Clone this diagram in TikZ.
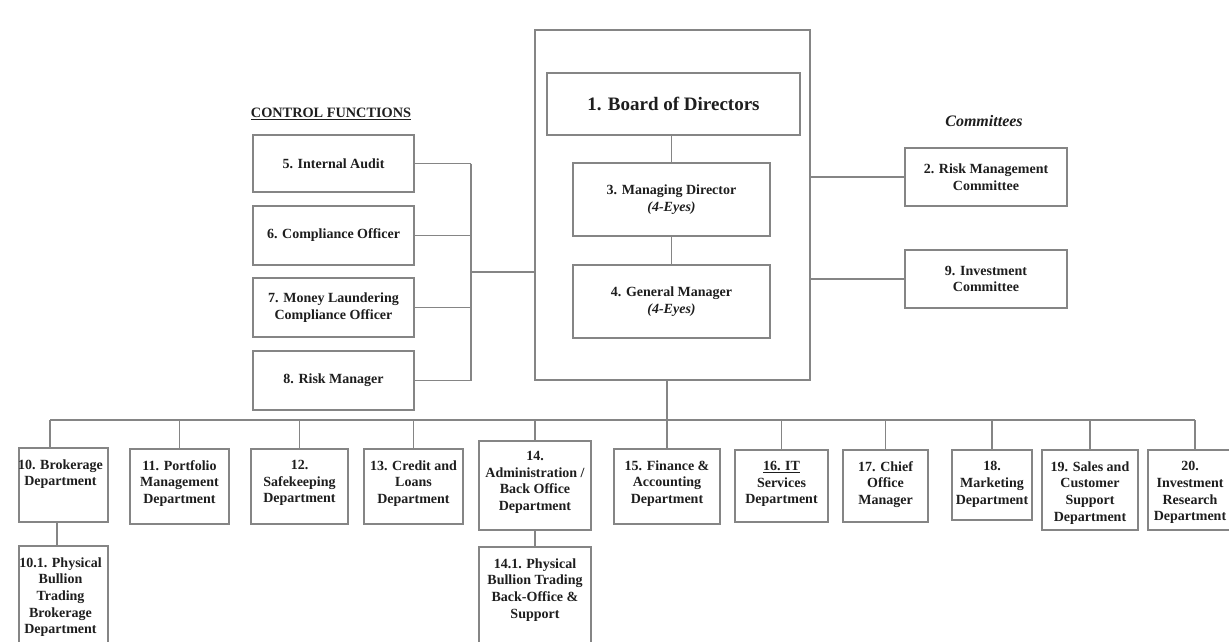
\documentclass[tikz,border=0pt]{standalone}
\usepackage{fontspec}
\setmainfont{Liberation Serif}
\usetikzlibrary{calc}
\definecolor{linec}{HTML}{858585}
\definecolor{textc}{HTML}{1E1E1E}
\tikzset{
  box/.style={draw=linec, line width=1.8pt, inner sep=0pt},
  btxt/.style={font=\bfseries\fontsize{14}{16.7}\selectfont, text=textc, align=center, inner sep=0pt},
  ln/.style={draw=linec, line width=1.8pt},
  toptxt/.style={btxt, anchor=north}
}
\begin{document}
\begin{tikzpicture}[x=1pt,y=-1pt]
\fill[white] (0,0) rectangle (1229,641);
\useasboundingbox (0,0) rectangle (1229,641);

% central block
\node[box, minimum width=275pt, minimum height=350pt] (outer) at (672.5,205) {};
\node[box, font=\bfseries\fontsize{19}{22}\selectfont, text=textc, minimum width=253pt, minimum height=62pt] (board) at (673.5,104) {1. Board of Directors};
\node[box, btxt, minimum width=197pt, minimum height=73pt] (md) at (671.5,199.5) {3. Managing Director\\\textit{(4-Eyes)}};
\node[box, btxt, minimum width=197pt, minimum height=73pt] (gm) at (671.5,301.5) {4. General Manager\\\textit{(4-Eyes)}};
\draw[ln] (md.north |- board.south) -- (md.north);
\draw[ln] (md.south) -- (gm.north);

% control functions
\node[font=\bfseries\fontsize{14.3}{16}\selectfont, text=textc, inner sep=0pt] (ctl) at (331,114) {\underline{CONTROL FUNCTIONS}};
\node[box, btxt, minimum width=161pt, minimum height=57pt] (b5) at (333.5,163.5) {5. Internal Audit};
\node[box, btxt, minimum width=161pt, minimum height=59pt] (b6) at (333.5,235.5) {6. Compliance Officer};
\node[box, btxt, minimum width=161pt, minimum height=59pt] (b7) at (333.5,307.5) {7. Money Laundering\\Compliance Officer};
\node[box, btxt, minimum width=161pt, minimum height=59pt] (b8) at (333.5,380.5) {8. Risk Manager};
\coordinate (jL) at (471,272);
\foreach \b in {b5,b6,b7,b8} \draw[ln] (\b.east) -- (\b.east -| jL);
\draw[ln] (b5.east -| jL) -- (b8.east -| jL);
\draw[ln] (jL) -- (jL -| outer.west);

% committees
\node[font=\bfseries\itshape\fontsize{16}{18}\selectfont, text=textc, inner sep=0pt] (com) at (984,121) {Committees};
\node[box, btxt, minimum width=162pt, minimum height=58pt] (rm) at (986,177) {2. Risk Management\\Committee};
\node[box, btxt, minimum width=162pt, minimum height=58pt] (inv) at (986,279) {9. Investment\\Committee};
\draw[ln] (rm.west -| outer.east) -- (rm.west);
\draw[ln] (inv.west -| outer.east) -- (inv.west);

% departments
\node[box, minimum width=89pt, minimum height=74pt] (b10) at (63.5,485) {};
\node[box, minimum width=99pt, minimum height=75pt] (b11) at (179.5,486.5) {};
\node[box, minimum width=97pt, minimum height=75pt] (b12) at (299.5,486.5) {};
\node[box, minimum width=99pt, minimum height=75pt] (b13) at (413.5,486.5) {};
\node[box, minimum width=112pt, minimum height=89pt] (b14) at (535,485.5) {};
\node[box, minimum width=106pt, minimum height=75pt] (b15) at (667,486.5) {};
\node[box, minimum width=93pt, minimum height=72pt] (b16) at (781.5,486) {};
\node[box, minimum width=85pt, minimum height=72pt] (b17) at (885.5,486) {};
\node[box, minimum width=80pt, minimum height=70pt] (b18) at (992,485) {};
\node[box, minimum width=96pt, minimum height=80pt] (b19) at (1090,490) {};
\node[box, minimum width=84pt, minimum height=80pt] (b20) at (1190,490) {};
\node[box, minimum width=89pt, minimum height=114pt] (b101) at (63.5,603) {};
\node[box, minimum width=112pt, minimum height=113pt] (b141) at (535,603.5) {};

\node[toptxt] (t10) at ([xshift=-3pt,yshift=-12pt]b10.north) {10. Brokerage\\Department};
\node[toptxt] (t11) at ([yshift=-12pt]b11.north) {11. Portfolio\\Management\\Department};
\node[toptxt] (t12) at ([yshift=-12pt]b12.north) {12.\\Safekeeping\\Department};
\node[toptxt] (t13) at ([yshift=-12pt]b13.north) {13. Credit and\\Loans\\Department};
\node[toptxt] (t14) at ([yshift=-11pt]b14.north) {14.\\Administration /\\Back Office\\Department};
\node[toptxt] (t15) at ([yshift=-12pt]b15.north) {15. Finance \&\\Accounting\\Department};
\node[toptxt] (t16) at ([yshift=-12pt]b16.north) {\underline{16. IT}\\Services\\Department};
\node[toptxt] (t17) at ([yshift=-12pt]b17.north) {17. Chief\\Office\\Manager};
\node[toptxt] (t18) at ([yshift=-12pt]b18.north) {18.\\Marketing\\Department};
\node[toptxt] (t19) at ([yshift=-12pt]b19.north) {19. Sales and\\Customer\\Support\\Department};
\node[toptxt] (t20) at ([yshift=-12pt]b20.north) {20.\\Investment\\Research\\Department};
\node[toptxt] (t101) at ([xshift=-3pt,yshift=-12pt]b101.north) {10.1. Physical\\Bullion\\Trading\\Brokerage\\Department};
\node[toptxt] (t141) at ([yshift=-12pt]b141.north) {14.1. Physical\\Bullion Trading\\Back-Office \&\\Support};

\coordinate (bL) at (50,420);
\coordinate (bR) at (1195,420);
\draw[ln] (outer.south -| b15.north) -- (b15.north);
\draw[ln] (bL) -- (bR);
\draw[ln] (bL) -- (bL |- b10.north);
\foreach \b in {b11,b12,b13,b14,b16,b17,b18,b19} \draw[ln] (\b.north |- bL) -- (\b.north);
\draw[ln] (bR) -- (bR |- b20.north);
\draw[ln] ([xshift=-6.5pt]b10.south) -- ([xshift=-6.5pt]b101.north);
\draw[ln] (b14.south) -- (b141.north);
\end{tikzpicture}
\end{document}
